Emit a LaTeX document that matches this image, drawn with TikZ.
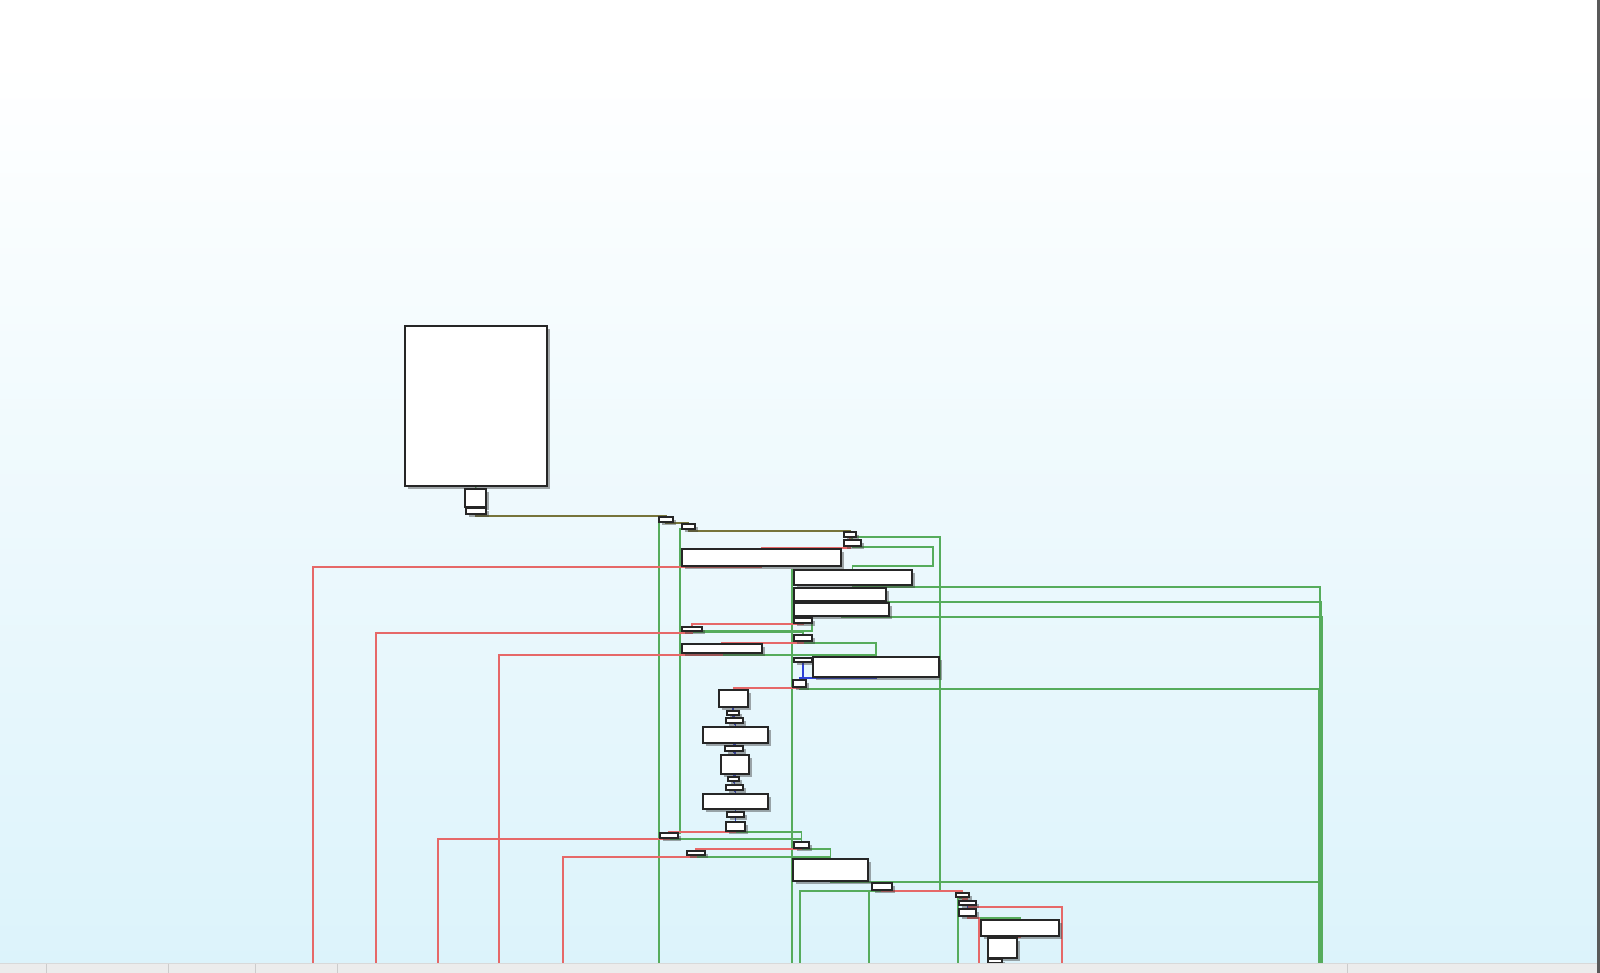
\documentclass[tikz,border=0pt]{standalone}
\usetikzlibrary{shadows}
\definecolor{bgbottom}{RGB}{220,243,251}
\definecolor{tgreen}{RGB}{86,172,92}
\definecolor{fred}{RGB}{230,104,104}
\definecolor{ublue}{RGB}{45,65,215}
\definecolor{mixolive}{RGB}{118,116,58}
\definecolor{bargray}{RGB}{236,236,236}
\pgfdeclarelayer{bg}
\pgfdeclarelayer{edges}
\pgfsetlayers{bg,edges,main}
\tikzset{block/.style={rectangle, draw=black!85, fill=white, line width=1pt, inner sep=0pt, outer sep=0pt,
  drop shadow={shadow xshift=2pt, shadow yshift=-2pt, opacity=0.45, fill=black!75}}}
\tikzset{tedge/.style={draw=tgreen, line width=1pt},
  fedge/.style={draw=fred, line width=1pt},
  uedge/.style={draw=ublue, line width=1pt},
  oedge/.style={draw=mixolive, line width=1pt}}

\begin{document}
\begin{tikzpicture}[x=0.025cm,y=-0.025cm]
  \useasboundingbox (0,0) rectangle (1600,973);
  \begin{pgfonlayer}{bg}
    \fill[white] (0,0) rectangle (1600,60);
    \shade[top color=white, bottom color=bgbottom] (0,60) rectangle (1600,963);
  \end{pgfonlayer}

  % basic blocks, given by their corners
  \foreach \lab/\xa/\ya/\xb/\yb in {
    1/405/326/547/486,
    2/465/489/486/507,
    3/466/508/486/514,
    4/659/517/673/522,
    5/682/524/695/529,
    6/844/532/856/537,
    7/844/540/861/546,
    8/682/549/841/566,
    9/794/570/912/585,
    10/794/588/886/601,
    11/794/603/889/616,
    12/794/618/812/623,
    13/682/627/702/631,
    14/794/635/812/641,
    15/682/644/762/653,
    16/794/658/812/662,
    17/813/657/939/677,
    18/793/680/806/687,
    19/719/690/748/707,
    20/727/711/739/715,
    21/726/718/743/723,
    22/703/727/768/743,
    23/725/746/743/751,
    24/721/755/749/774,
    25/728/777/739/781,
    26/726/785/743/790,
    27/703/794/768/809,
    28/727/812/744/817,
    29/726/822/745/831,
    30/660/833/678/838,
    31/794/842/809/848,
    32/687/851/705/855,
    33/793/859/868/881,
    34/872/883/892/890,
    35/956/893/969/897,
    36/959/901/976/905,
    37/959/909/976/916,
    38/981/920/1059/936,
    39/988/938/1017/958,
    40/988/959/1002/963%
  } {
    \node[block, minimum width={(\xb-\xa)*0.025cm}, minimum height={(\yb-\ya)*0.025cm}]
      (\lab) at ({(\xa+\xb)/2},{(\ya+\yb)/2}) {};
  }

  % loose ends below the visible part
  \foreach \lab/\x in {r1/313, r2/376, r3/499, r4/438, r5/563, r6/1062, r7/979,
    g0/659, g1/1320, g2/1321, g3/1322, g4/1319, g5/1320, g6/800, g7/869, g8/958, g9/792} {
    \coordinate (\lab) at (\x,963);
  }

  \begin{pgfonlayer}{edges}
    % true branches
    \foreach \u/\d/\v in {
      6/1/7.north,
      9/2/g1,
      10/1/g2,
      11/1/g3,
      13/1/14.north,
      14/2/17.north,
      15/2/17.north,
      18/2/g4,
      29/1/31.north,
      30/1/31.north,
      31/1/33.north,
      32/2/33.north,
      33/1/g5,
      33/1/34.north,
      34/1/g6,
      34/1/g7,
      35/1/g8,
      37/2/38.north%
    }{
      \draw[tedge] (\u.south) -- ++(0,\d) -| (\v);
    }
    \draw[tedge] (1.south) -- (2.north);
    \draw[tedge] (2.north west) -- (2.south west);
    \draw[tedge] (4.south west) -- (g0);
    \draw[tedge] (5.south west) -- ++(-2,0) |- (30.north east);
    \draw[tedge] (6.south east) -| (940,891) -| (35.north);
    \draw[tedge] (7.south) -- ++(0,1) -| (933,566) -- (852.5,566) -- (9.north -| 7.south);
    \draw[tedge] (9.north west) -| (g9);
    \draw[tedge] (12.south east) |- (13.south east);

    % false branches
    \foreach \u/\d/\v in {
      6/11/8.north,
      8/1/r1,
      12/1/13.north,
      13/2/r2,
      14/2/15.north,
      15/2/r3,
      18/1/19.north,
      29/1/30.north,
      30/1/r4,
      31/1/32.north,
      32/2/r5,
      34/1/35.north,
      35/2/36.north,
      36/2/r6,
      37/2/r7,
      38/1/39.north%
    }{
      \draw[fedge] (\u.south) -- ++(0,\d) -| (\v);
    }

    % plain jumps
    \foreach \u/\v in {2/3, 19/20, 20/21, 21/22, 22/23, 23/24, 24/25, 25/26, 26/27, 27/28, 28/29, 36/37, 39/40} {
      \draw[uedge] (\u.south) -- ++(0,1) -| (\v.north);
    }
    \draw[uedge] (17.south) -- ++(0,1) -| (18.north);
    \draw[uedge] (16.south) -- (16.south |- 18.north);

    % entry chain
    \draw[oedge] (3.south) -- ++(0,2) -| (4.north);
    \draw[oedge] (4.south) -- ++(0,1) -| (5.north);
    \draw[oedge] (5.south) -- ++(0,2) -| (6.north);
  \end{pgfonlayer}

  % status bar and window edge
  \fill[bargray] (0,963) rectangle (1600,973);
  \draw[black!15] (0,963.5) -- (1600,963.5);
  \foreach \x in {46,168,255,337,1347} {
    \draw[black!20] (\x,964) -- (\x,973);
  }
  \fill[black!65] (1597,0) rectangle (1600,973);
\end{tikzpicture}
\end{document}
